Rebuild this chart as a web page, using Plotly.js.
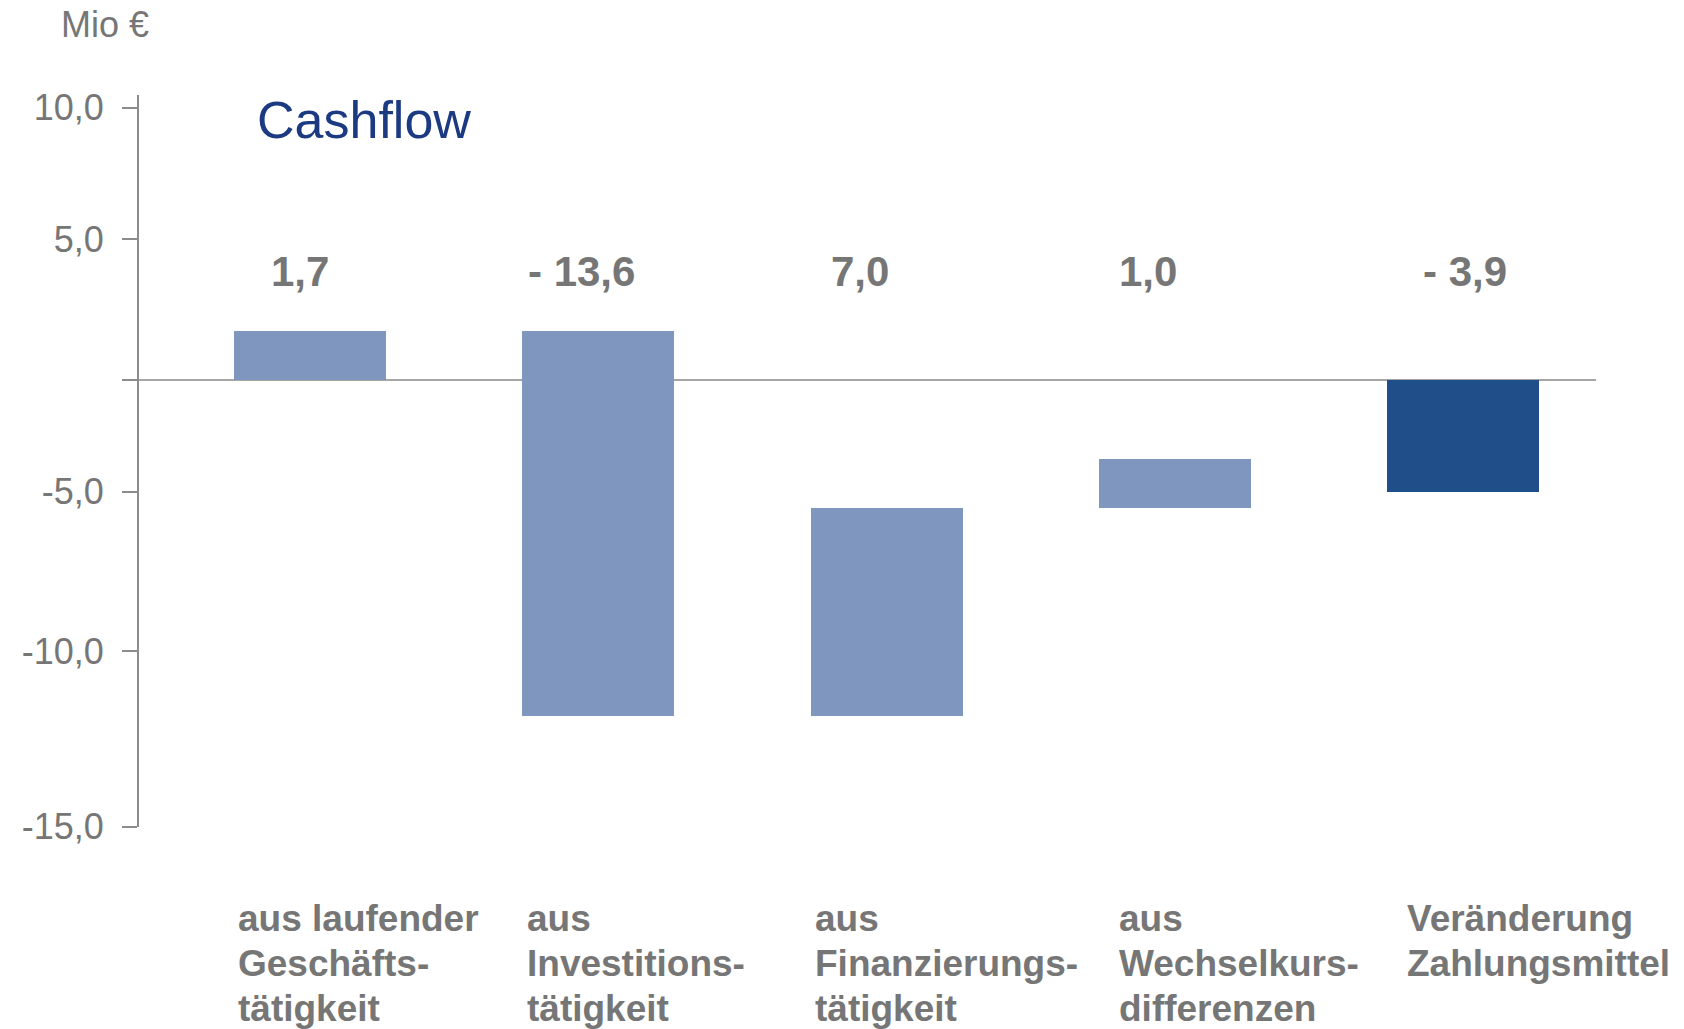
<!DOCTYPE html>
<html>
<head>
<meta charset="utf-8">
<script src="https://cdn.plot.ly/plotly-3.0.1.min.js"></script>
<style>
  html, body { margin: 0; padding: 0; background: #ffffff; }
  #chart { width: 1684px; height: 1029px; }
</style>
</head>
<body>
<div id="chart"></div>
<script>
// ---- data ----
const categories = [
  "aus laufender<br>Geschäfts-<br>tätigkeit",
  "aus<br>Investitions-<br>tätigkeit",
  "aus<br>Finanzierungs-<br>tätigkeit",
  "aus<br>Wechselkurs-<br>differenzen",
  "Veränderung<br>Zahlungsmittel"
];
const valueLabels = ["1,7", "- 13,6", "7,0", "1,0", "- 3,9"];
// bar start / end levels (Mio €), as drawn
const barStart = [0, 1.71, -11.75, -4.46, 0];
const barEnd   = [1.71, -11.75, -4.46, -2.76, -3.91];
const isTotal  = [false, false, false, false, true];
// y tick labels as printed and where they sit on the axis
const tickLabels = ["10,0", "5,0", "", "-5,0", "-10,0", "-15,0"];
const tickValues = [9.52, 4.93, 0, -3.91, -9.49, -15.62];
const unitLabel = "Mio €";
const chartTitle = "Cashflow";

// ---- styles ----
const GRAY = "#767676";
const LIGHT = "#7f96bf";
const DARK = "#1f4e89";
const TITLE_BLUE = "#1b3a82";
const FONT = "Arial, 'Liberation Sans', sans-serif";
const valueShift = [-10, -17, -27, -27, 2];
const catOffset = [-0.256, -0.256, -0.257, -0.201, -0.201];

const xs = categories.map((_, i) => i);
const trace = {
  type: "bar",
  x: xs,
  base: barStart,
  y: barEnd.map((e, i) => e - barStart[i]),
  width: 0.5274,
  marker: { color: isTotal.map(t => t ? DARK : LIGHT), line: { width: 0 } },
  hoverinfo: "skip",
  showlegend: false
};

const annotations = [];
valueLabels.forEach((t, i) => {
  annotations.push({
    x: xs[i], xref: "x", y: 0.7586, yref: "paper",
    text: "<b>" + t + "</b>", showarrow: false,
    xanchor: "center", yanchor: "middle", xshift: valueShift[i],
    font: { family: FONT, size: 42, color: GRAY }
  });
});
const lineY = [-0.1245, -0.186, -0.2475];
categories.forEach((c, i) => {
  c.split("<br>").forEach((ln, j) => {
    annotations.push({
      x: xs[i] + catOffset[i], xref: "x", y: lineY[j], yref: "paper",
      text: "<b>" + ln + "</b>", showarrow: false,
      xanchor: "left", yanchor: "middle",
      font: { family: FONT, size: 37, color: GRAY }
    });
  });
});
annotations.push({
  x: -0.0547, xref: "paper", y: 1.0963, yref: "paper",
  text: unitLabel, showarrow: false, xanchor: "left", yanchor: "middle",
  font: { family: FONT, size: 36, color: GRAY }
});
annotations.push({
  x: 0.0796, xref: "paper", y: 0.9663, yref: "paper",
  text: chartTitle, showarrow: false, xanchor: "left", yanchor: "middle",
  font: { family: FONT, size: 52, color: TITLE_BLUE }
});

const layout = {
  width: 1684, height: 1029,
  margin: { l: 139, r: 88, t: 95, b: 202, pad: 0 },
  paper_bgcolor: "#ffffff", plot_bgcolor: "#ffffff",
  bargap: 0,
  xaxis: {
    range: [-0.594, 4.4615], showgrid: false, zeroline: false,
    showline: false, showticklabels: false, ticks: "", fixedrange: true
  },
  yaxis: {
    range: [-15.63, 9.965], showgrid: false,
    zeroline: true, zerolinecolor: "#a6a6a6", zerolinewidth: 2,
    showline: true, linecolor: "#8c8c8c", linewidth: 2,
    ticks: "outside", ticklen: 15, tickwidth: 2, tickcolor: "#8c8c8c",
    tickmode: "array", tickvals: tickValues, ticktext: tickLabels,
    ticklabelstandoff: 11,
    tickfont: { family: FONT, size: 36, color: GRAY }, fixedrange: true
  },
  annotations: annotations,
  hovermode: false
};

Plotly.newPlot("chart", [trace], layout, { displayModeBar: false, staticPlot: true });
</script>
</body>
</html>
